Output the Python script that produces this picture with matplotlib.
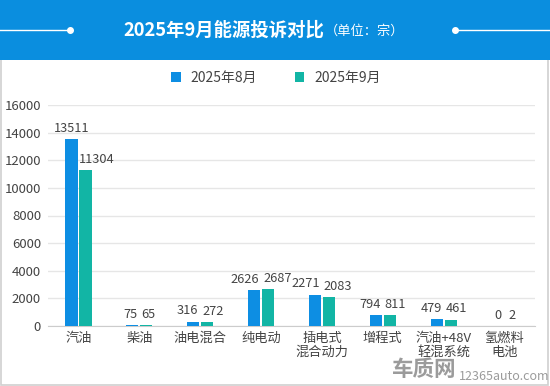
import matplotlib
matplotlib.use("Agg")
import matplotlib.pyplot as plt
import numpy as np
from matplotlib.patches import Rectangle
from matplotlib.lines import Line2D

plt.rcParams['font.family'] = ['Noto Sans CJK SC', 'DejaVu Sans']

categories = ["汽油", "柴油", "油电混合", "纯电动", "插电式\n混合动力", "增程式", "汽油+48V\n轻混系统", "氢燃料\n电池"]
aug = [13511, 75, 316, 2626, 2271, 794, 479, 0]
sep = [11304, 65, 272, 2687, 2083, 811, 461, 2]
series_names = ["2025年8月", "2025年9月"]
yticks = [0, 2000, 4000, 6000, 8000, 10000, 12000, 14000, 16000]

c_blue = "#0d8ee3"
c_teal = "#12b5a5"
txt = "#444444"

fig = plt.figure(figsize=(5.5, 3.86), dpi=100)
W, H = 550, 386

# border
fig.add_artist(Rectangle((1/W, 1/H), 547/W, (H-2)/H, transform=fig.transFigure,
                         facecolor="white", edgecolor="#d0d0d0", lw=1.2, zorder=0))
# header
fig.add_artist(Rectangle((0, 1-60/H), 1, 60/H, transform=fig.transFigure,
                         facecolor="#0a8edf", edgecolor="none", zorder=1))
yl = 1-30/H
fig.add_artist(Line2D([0, 70/W], [yl, yl], transform=fig.transFigure, color="white", lw=1, zorder=2))
fig.add_artist(Line2D([455/W, 1], [yl, yl], transform=fig.transFigure, color="white", lw=1, zorder=2))
fig.add_artist(Line2D([70/W], [yl], transform=fig.transFigure, color="white", marker="o", ms=4, zorder=2))
fig.add_artist(Line2D([455/W], [yl], transform=fig.transFigure, color="white", marker="o", ms=4, zorder=2))
fig.text(324/W, yl, "2025年9月能源投诉对比", color="white", fontsize=13.2, fontweight="bold",
         ha="right", va="center", zorder=3)
fig.text(325/W, yl-1/H, "（单位：宗）", color="white", fontsize=9.5, ha="left", va="center", zorder=3)

ax = fig.add_axes([48/W, (H-326)/H, 487/W, (326-105)/H])
x = np.arange(len(categories))
bw = 0.2
off = 0.115
b1 = ax.bar(x - off, aug, bw, color=c_blue, label=series_names[0], zorder=3)
b2 = ax.bar(x + off, sep, bw, color=c_teal, label=series_names[1], zorder=3)

ax.set_xlim(-0.5, len(categories) - 0.5)
ax.set_ylim(0, 16000)
ax.set_yticks(yticks)
ax.set_yticklabels([str(t) for t in yticks])
ax.set_xticks(x)
ax.set_xticklabels(categories, linespacing=1.1)
ax.tick_params(axis="both", length=0, labelsize=9.5, colors=txt)
ax.tick_params(axis="y", pad=5)
ax.tick_params(axis="x", pad=4)
ax.grid(axis="y", color="#e6e6e6", lw=1, zorder=0)
for s in ["top", "right", "left"]:
    ax.spines[s].set_visible(False)
ax.spines["bottom"].set_color("#cccccc")
ax.set_facecolor("none")

# value labels with simple overlap avoidance
fig.canvas.draw()
renderer = fig.canvas.get_renderer()
gap = 4
for i in range(len(categories)):
    r1, r2 = b1[i], b2[i]
    t1 = ax.annotate(str(aug[i]), (r1.get_x() + r1.get_width()/2, r1.get_height()),
                     xytext=(0, 3), textcoords="offset points", ha="center", va="bottom",
                     fontsize=9.2, color=txt)
    t2 = ax.annotate(str(sep[i]), (r2.get_x() + r2.get_width()/2, r2.get_height()),
                     xytext=(0, 3), textcoords="offset points", ha="center", va="bottom",
                     fontsize=9.2, color=txt)
    e1 = t1.get_window_extent(renderer)
    e2 = t2.get_window_extent(renderer)
    bar1 = r1.get_window_extent(renderer)
    vert = not (e1.y1 < e2.y0 or e2.y1 < e1.y0)
    if vert and e1.x1 + gap > e2.x0:
        total = e1.width + e2.width + gap
        cx = (bar1.x1 + r2.get_window_extent(renderer).x0) / 2
        left = cx - total / 2
        d1 = (left + e1.width/2) - (e1.x0 + e1.width/2)
        d2 = (left + e1.width + gap + e2.width/2) - (e2.x0 + e2.width/2)
        t1.set_position((d1 * 72 / fig.dpi, 3))
        t2.set_position((d2 * 72 / fig.dpi, 3))
    elif e2.y0 < bar1.y1 and e2.x0 < bar1.x1:
        d2 = bar1.x1 + 1 - e2.x0
        t2.set_position((d2 * 72 / fig.dpi, 3))

fig.legend(handles=[b1, b2], labels=series_names, loc="center", bbox_to_anchor=(276/W, 1-78/H),
           ncol=2, frameon=False, fontsize=10, handlelength=0.7, handleheight=0.7,
           columnspacing=2.7, handletextpad=0.7, labelcolor=txt)

# watermark
fig.text(456/W, 16/H, "车质网", fontsize=15.5, fontweight="bold", color="#8a8a8a", ha="right", va="center",
         alpha=0.85)
fig.text(459/W, 9/H, "12365auto.com", fontsize=9, color="#8a8a8a", ha="left", va="center", alpha=0.85)

fig.savefig("out.png", dpi=100)
